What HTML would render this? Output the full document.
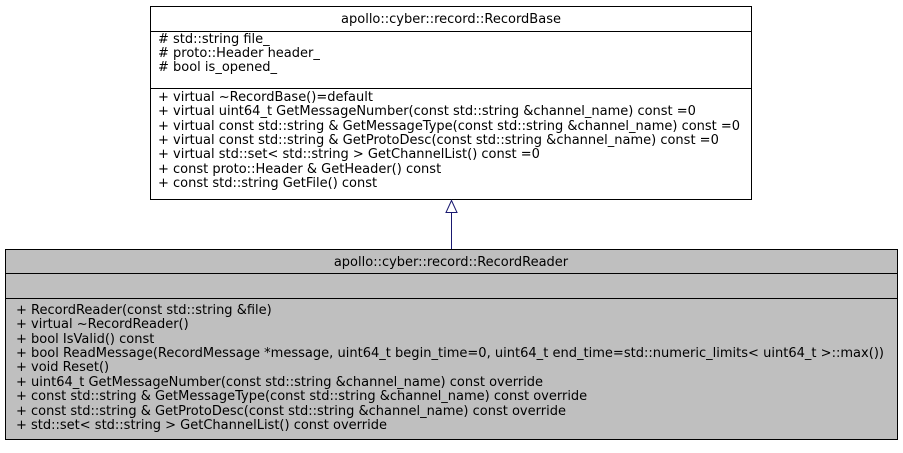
<!DOCTYPE html>
<html><head><meta charset="utf-8"><style>
html,body{margin:0;padding:0;background:#fff;}
text{font-family:"DejaVu Sans","Liberation Sans",sans-serif;font-size:13px;fill:#000;}
</style></head><body>
<svg width="903" height="448" viewBox="0 0 903 448" xmlns="http://www.w3.org/2000/svg">
<rect x="150.5" y="6.5" width="601" height="193" fill="#fff" stroke="#000"/>
<line x1="150" y1="31.5" x2="752" y2="31.5" stroke="#000"/>
<line x1="150" y1="88.5" x2="752" y2="88.5" stroke="#000"/>
<text x="451" y="23" text-anchor="middle">apollo::cyber::record::RecordBase</text>
<text x="158" y="43"># std::string file_</text>
<text x="158" y="57"># proto::Header header_</text>
<text x="158" y="71"># bool is_opened_</text>
<text x="158" y="101">+ virtual ~RecordBase()=default</text>
<text x="158" y="115">+ virtual uint64_t GetMessageNumber(const std::string &amp;channel_name) const =0</text>
<text x="158" y="130">+ virtual const std::string &amp; GetMessageType(const std::string &amp;channel_name) const =0</text>
<text x="158" y="144">+ virtual const std::string &amp; GetProtoDesc(const std::string &amp;channel_name) const =0</text>
<text x="158" y="158">+ virtual std::set&lt; std::string &gt; GetChannelList() const =0</text>
<text x="158" y="173">+ const proto::Header &amp; GetHeader() const</text>
<text x="158" y="187">+ const std::string GetFile() const</text>

<line x1="451.5" y1="212" x2="451.5" y2="249" stroke="#191970"/>
<polygon points="451.5,200.5 446,212.5 457,212.5" fill="#fff" stroke="#191970"/>

<rect x="5.5" y="249.5" width="892" height="190" fill="#bfbfbf" stroke="#000"/>
<line x1="5" y1="273.5" x2="898" y2="273.5" stroke="#000"/>
<line x1="5" y1="298.5" x2="898" y2="298.5" stroke="#000"/>
<text x="451" y="266" text-anchor="middle">apollo::cyber::record::RecordReader</text>
<text x="16" y="314">+ RecordReader(const std::string &amp;file)</text>
<text x="16" y="328">+ virtual ~RecordReader()</text>
<text x="16" y="343">+ bool IsValid() const</text>
<text x="16" y="357" textLength="868" lengthAdjust="spacingAndGlyphs">+ bool ReadMessage(RecordMessage *message, uint64_t begin_time=0, uint64_t end_time=std::numeric_limits&lt; uint64_t &gt;::max())</text>
<text x="16" y="371">+ void Reset()</text>
<text x="16" y="386">+ uint64_t GetMessageNumber(const std::string &amp;channel_name) const override</text>
<text x="16" y="400">+ const std::string &amp; GetMessageType(const std::string &amp;channel_name) const override</text>
<text x="16" y="415">+ const std::string &amp; GetProtoDesc(const std::string &amp;channel_name) const override</text>
<text x="16" y="429">+ std::set&lt; std::string &gt; GetChannelList() const override</text>
</svg>
</body></html>
